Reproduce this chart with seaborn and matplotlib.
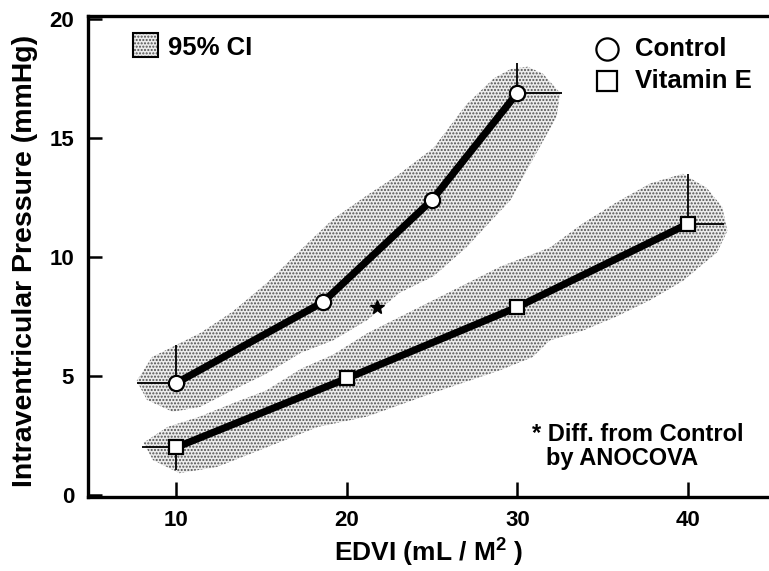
import numpy as np
import pandas as pd
import matplotlib
matplotlib.use("Agg")
import matplotlib.pyplot as plt
import seaborn as sns
from matplotlib.patches import Rectangle, Polygon

# ---------------- data ----------------
ctrl_x = [10, 18.6, 25, 30]
ctrl_y = [4.7, 8.1, 12.4, 16.9]
vite_x = [10, 20, 30, 40]
vite_y = [2.0, 4.9, 7.9, 11.4]

# one-sided error bars (drawn only at the end points)
ctrl_yerr_lo = [0, 0, 0, 0]
ctrl_yerr_hi = [1.6, 0, 0, 1.25]
ctrl_xerr_lo = [2.3, 0, 0, 0]
ctrl_xerr_hi = [0, 0, 0, 2.6]
vite_yerr_lo = [0.95, 0, 0, 0]
vite_yerr_hi = [0, 0, 0, 2.1]
vite_xerr_lo = [2.0, 0, 0, 0]
vite_xerr_hi = [0, 0, 0, 2.1]

# 95% CI band outlines
ctrl_band_x = [7.7, 8.6, 10.0, 11.4, 13.3, 15.3, 17.3, 19.2, 21.2, 23.1, 25.1, 27.0, 28.6, 29.6, 30.6, 31.5, 32.5,
               32.3, 30.9, 29.6, 27.0, 25.1, 23.1, 21.2, 19.2, 17.3, 15.3, 13.3, 11.4, 9.8, 8.3]
ctrl_band_y = [4.8, 5.8, 6.3, 6.8, 7.7, 8.9, 10.3, 11.6, 12.6, 13.5, 14.6, 16.4, 17.5, 17.9, 18.0, 17.7, 16.9,
               15.9, 14.1, 12.4, 10.4, 9.2, 8.5, 7.35, 6.5, 5.97, 5.1, 4.4, 3.7, 3.5, 4.0]
vite_band_x = [8.1, 9.5, 11.4, 13.3, 15.3, 17.3, 19.2, 21.2, 25.1, 29.0, 31.9, 33.8, 35.8, 37.8, 39.7, 41.1, 42.0, 42.3,
               41.7, 39.7, 37.8, 35.8, 33.8, 31.9, 30.9, 29.0, 25.1, 21.2, 18.3, 15.3, 12.4, 10.2, 8.65]
vite_band_y = [2.2, 2.86, 3.3, 3.85, 4.4, 5.3, 5.9, 6.8, 8.2, 9.6, 10.4, 11.4, 12.3, 13.1, 13.5, 12.9, 12.1, 11.1,
               10.2, 9.0, 8.2, 7.5, 6.9, 6.5, 5.8, 5.25, 4.3, 3.3, 2.86, 2.0, 1.18, 0.92, 1.47]

star_x, star_y = 21.8, 7.9

x_ticks = [10, 20, 30, 40]
y_ticks = [0, 5, 10, 15, 20]

# ---------------- style ----------------
sns.set_style("ticks")
plt.rcParams["font.family"] = ["Liberation Sans", "DejaVu Sans"]
plt.rcParams["font.weight"] = "bold"
plt.rcParams["axes.labelweight"] = "bold"
plt.rcParams["text.color"] = "black"
plt.rcParams["axes.labelcolor"] = "black"
plt.rcParams["xtick.color"] = "black"
plt.rcParams["ytick.color"] = "black"
plt.rcParams["mathtext.fontset"] = "custom"
plt.rcParams["mathtext.rm"] = "Liberation Sans:bold"
plt.rcParams["mathtext.default"] = "rm"
plt.rcParams["hatch.linewidth"] = 1.0

fig = plt.figure(figsize=(7.69, 5.71), dpi=100)
ax = fig.add_axes([88 / 769, 1 - 496.5 / 571, 681 / 769, 480.5 / 571])

band_face = "#ececec"
band_dots = "#505050"
band_kw = dict(closed=True, facecolor=band_face, edgecolor=band_dots, hatch=".....", linewidth=0, zorder=1)
ax.add_patch(Polygon(np.column_stack([ctrl_band_x, ctrl_band_y]), **band_kw))
ax.add_patch(Polygon(np.column_stack([vite_band_x, vite_band_y]), **band_kw))

# error bars
ax.errorbar(ctrl_x, ctrl_y, yerr=[ctrl_yerr_lo, ctrl_yerr_hi], xerr=[ctrl_xerr_lo, ctrl_xerr_hi],
            fmt="none", ecolor="black", elinewidth=1.3, capsize=0, zorder=2)
ax.errorbar(vite_x, vite_y, yerr=[vite_yerr_lo, vite_yerr_hi], xerr=[vite_xerr_lo, vite_xerr_hi],
            fmt="none", ecolor="black", elinewidth=1.3, capsize=0, zorder=2)

df_c = pd.DataFrame({"x": ctrl_x, "y": ctrl_y})
df_v = pd.DataFrame({"x": vite_x, "y": vite_y})
sns.lineplot(data=df_c, x="x", y="y", ax=ax, color="black", linewidth=5.2, marker="o", markersize=11,
             markerfacecolor="white", markeredgecolor="black", markeredgewidth=1.6, zorder=3)
sns.lineplot(data=df_v, x="x", y="y", ax=ax, color="black", linewidth=5.2, marker="s", markersize=9.5,
             markerfacecolor="white", markeredgecolor="black", markeredgewidth=1.6, zorder=3)

ax.plot([star_x], [star_y], marker="*", color="black", markersize=10, linestyle="none", zorder=4)

# axes
ax.set_xlim(4.845, 44.74)
ax.set_ylim(-0.06, 20.13)
ax.set_xticks(x_ticks)
ax.set_yticks(y_ticks)
ax.set_xticklabels([str(t) for t in x_ticks], fontsize=16, fontweight="bold")
ax.set_yticklabels([str(t) for t in y_ticks], fontsize=16, fontweight="bold")
ax.tick_params(axis="both", direction="in", width=1.8, color="black", labelcolor="black")
ax.tick_params(axis="x", length=11, pad=10)
ax.tick_params(axis="y", length=10, pad=10)
for s in ["left", "top", "bottom"]:
    ax.spines[s].set_linewidth(2.4)
    ax.spines[s].set_color("black")
ax.spines["right"].set_visible(False)

ax.set_xlabel("EDVI (mL / M$^{2}$ )", fontsize=19, fontweight="bold", va="center", color="black")
ax.xaxis.set_label_coords(0.5007, -0.1164)
ax.set_ylabel("Intraventricular Pressure (mmHg)", fontsize=20.5, fontweight="bold", va="center", color="black")
ax.yaxis.set_label_coords(-0.0925, 0.4906)

# legend-like keys
ax.add_patch(Rectangle((0.0661, 0.9148), 0.0367, 0.0499, transform=ax.transAxes, facecolor=band_face,
                       edgecolor=band_dots, hatch=".....", linewidth=0, zorder=5))
ax.add_patch(Rectangle((0.0661, 0.9148), 0.0367, 0.0499, transform=ax.transAxes, facecolor="none",
                       edgecolor="black", linewidth=1.5, zorder=6))
ax.text(0.1175, 0.9335, "95% CI", transform=ax.transAxes, fontsize=18.5, fontweight="bold", va="center", ha="left")
ax.plot([0.7614], [0.9314], transform=ax.transAxes, marker="o", markersize=16, markerfacecolor="white",
        markeredgecolor="black", markeredgewidth=1.6, linestyle="none")
ax.plot([0.7621], [0.8649], transform=ax.transAxes, marker="s", markersize=15, markerfacecolor="white",
        markeredgecolor="black", markeredgewidth=1.6, linestyle="none")
ax.text(0.8032, 0.9314, "Control", transform=ax.transAxes, fontsize=18.5, fontweight="bold", va="center", ha="left")
ax.text(0.8032, 0.8649, "Vitamin E", transform=ax.transAxes, fontsize=18.5, fontweight="bold", va="center", ha="left")

ax.text(0.652, 0.1289, "* Diff. from Control", transform=ax.transAxes, fontsize=17, fontweight="bold",
        va="center", ha="left")
ax.text(0.672, 0.080, "by ANOCOVA", transform=ax.transAxes, fontsize=17, fontweight="bold",
        va="center", ha="left")

fig.savefig("out.png", dpi=100)
